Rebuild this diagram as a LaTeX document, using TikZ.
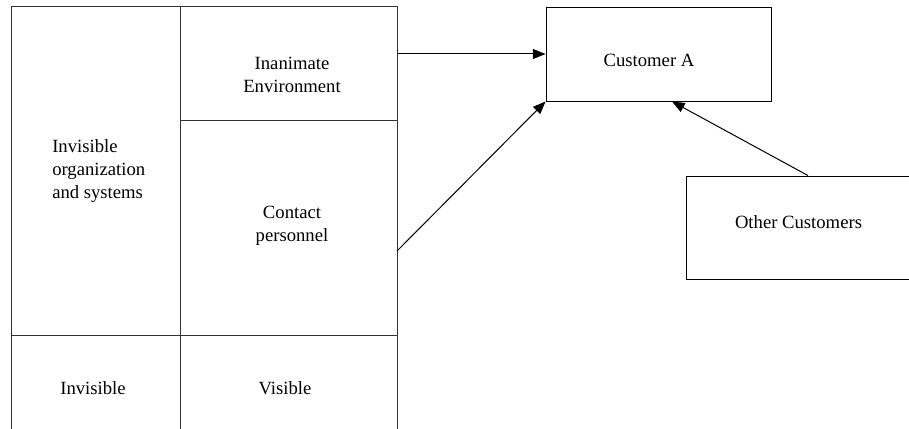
\documentclass[tikz,border=0pt]{standalone}
\usepackage{fontspec}
\setmainfont{Liberation Serif}
\usetikzlibrary{arrows.meta}

\begin{document}
\begin{tikzpicture}[
    x=0.75pt, y=-0.75pt,
    frame/.style   = {line width=0.75pt, draw=black!80},
    custbox/.style = {rectangle, draw, line width=0.7pt, inner sep=0pt,
                      minimum width=168.75pt},
    txt/.style     = {font=\fontsize{14}{17}\selectfont, align=center, inner sep=0pt},
    flow/.style    = {-{Triangle[length=9.5pt, width=7.5pt]}, line width=0.75pt},
]
\useasboundingbox (0,0) rectangle (909,428);
\clip (0,0) rectangle (909,428);

% ============================================================
%  SERVICE BLOCK  (left, open at the bottom edge)
% ============================================================
\draw[frame] (11,440) -- (11,7) -- (397,7) -- (397,440);
\draw[frame] (180,7) -- (180,440);
\draw[frame] (11,335) -- (397,335);
\draw[frame] (180,120) -- (397,120);

\node[txt, anchor=west, align=left] (orgTxt) at (52,171)
    {Invisible\\organization\\and systems};
\node[txt] (envTxt)     at (292,75)  {Inanimate\\Environment};
\node[txt] (contactTxt) at (292,226) {Contact\\personnel};
\node[txt] (invTxt)     at (93,388)  {Invisible};
\node[txt] (visTxt)     at (285,388) {Visible};

% tap points on the right edge of the block
\coordinate (envTap)     at (397,54);
\coordinate (contactTap) at (397,251);

% ============================================================
%  CUSTOMERS
% ============================================================
\node[custbox, minimum height=70.5pt] (custA)  at (658.5,54) {};
\node[txt] (custTxt) at (649,60) {Customer A};

\node[custbox, minimum height=77.25pt] (others) at (798.5,227.5) {};
\node[txt] (othTxt) at (798.5,222) {Other Customers};

% ============================================================
%  INTERACTIONS
% ============================================================
\draw[flow] (envTap) -- (custA.west);
\draw[flow] (contactTap) -- (custA.south west);
\draw[flow] ([xshift=7.1pt]others.north) -- ([xshift=10.1pt]custA.south);

\end{tikzpicture}
\end{document}
